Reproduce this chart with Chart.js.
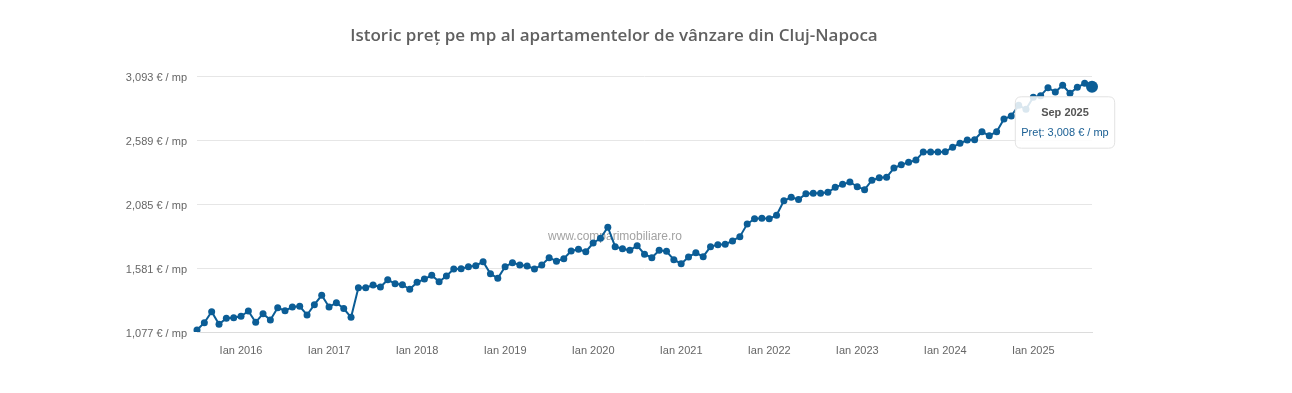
<!DOCTYPE html>
<html>
<head>
<meta charset="utf-8">
<script src="https://cdn.jsdelivr.net/npm/chart.js@4.4.0/dist/chart.umd.min.js"></script>
<style>
html, body { margin: 0; padding: 0; background: #fff; }
#wrap { width: 1292px; height: 393px; }
</style>
</head>
<body>
<div id="wrap"><canvas id="c" width="1292" height="393"></canvas></div>
<script>
// --- data ---
const monthNames = ['Ian', 'Feb', 'Mar', 'Apr', 'Mai', 'Iun', 'Iul', 'Aug', 'Sep', 'Oct', 'Noi', 'Dec'];
const startYear = 2015, startMonth = 6; // Iul 2015

const prices = [
    1093, 1150, 1237, 1138, 1185, 1190,
    1201, 1242, 1153, 1221, 1172, 1268, 1245, 1274, 1279, 1211, 1292, 1366,
    1274, 1308, 1262, 1193, 1426, 1426, 1447, 1431, 1489, 1457, 1450, 1413,
    1468, 1494, 1524, 1473, 1518, 1573, 1575, 1591, 1599, 1631, 1536, 1500,
    1591, 1623, 1605, 1597, 1573, 1605, 1662, 1634, 1654, 1715, 1728, 1709,
    1778, 1815, 1902, 1749, 1733, 1720, 1757, 1690, 1662, 1720, 1712, 1646,
    1615, 1668, 1701, 1670, 1749, 1765, 1768, 1794, 1828, 1927, 1969, 1972,
    1969, 1996, 2111, 2138, 2120, 2166, 2169, 2169, 2177, 2216, 2240, 2258,
    2221, 2198, 2272, 2292, 2295, 2368, 2394, 2413, 2431, 2495, 2495, 2495,
    2496, 2532, 2563, 2589, 2591, 2654, 2623, 2654, 2754, 2778, 2862, 2831,
    2925, 2938, 3001, 2967, 3020, 2957, 3004, 3035, 3008
];

const yTicks = [1077, 1581, 2085, 2589, 3093];

const months = prices.map((_, i) => {
    const m = (startMonth + i) % 12;
    const y = startYear + Math.floor((startMonth + i) / 12);
    return monthNames[m] + ' ' + y;
});

const fmt = v => Math.round(v).toLocaleString('en-US');
const BLUE = '#0b5d96';
const LABEL_FONT = '"Liberation Sans", Arial, sans-serif';

// --- plugins: title text + watermark ---
const decor = {
    id: 'decor',
    beforeDatasetsDraw(chart) {
        const { ctx, chartArea } = chart;
        ctx.save();
        ctx.font = '12px ' + LABEL_FONT;
        ctx.fillStyle = '#a3a3a3';
        ctx.textAlign = 'center';
        ctx.textBaseline = 'middle';
        ctx.fillText('www.comparimobiliare.ro', chartArea.left + 418, chartArea.top + 161);
        ctx.restore();
    },
    afterDraw(chart) {
        const { ctx } = chart;
        ctx.save();
        ctx.font = '600 17px "Open Sans", sans-serif';
        ctx.fillStyle = '#606060';
        ctx.textAlign = 'center';
        ctx.textBaseline = 'middle';
        ctx.fillText('Istoric preț pe mp al apartamentelor de vânzare din Cluj-Napoca', 614, 36);
        ctx.restore();
    }
};

Chart.Tooltip.positioners.below = function(items) {
    if (!items.length) return false;
    const el = items[0].element;
    return { x: el.x - 27, y: el.y + 10 };
};

const chart = new Chart(document.getElementById('c'), {
    type: 'line',
    data: {
        labels: months,
        datasets: [{
            label: 'Preț',
            data: prices,
            borderColor: BLUE,
            backgroundColor: BLUE,
            borderWidth: 2,
            pointRadius: 3.5,
            pointBorderWidth: 0,
            pointBackgroundColor: BLUE,
            pointHoverRadius: 6,
            pointHoverBorderWidth: 0,
            pointHoverBackgroundColor: BLUE,
            tension: 0
        }]
    },
    options: {
        responsive: false,
        animation: false,
        events: [],
        layout: { padding: { top: 76, right: 200, bottom: 0, left: 0 } },
        scales: {
            x: {
                offset: false,
                grid: { display: false, drawTicks: false },
                border: { display: true, color: '#dcdcdc' },
                ticks: {
                    autoSkip: false,
                    maxRotation: 0,
                    padding: 12,
                    color: '#666',
                    font: { family: LABEL_FONT, size: 11 },
                    callback(v, i) {
                        const l = months[i];
                        return l.startsWith('Ian') ? l : null;
                    }
                },
                afterFit(scale) { scale.height = 61; }
            },
            y: {
                min: yTicks[0],
                max: yTicks[yTicks.length - 1],
                grid: { color: '#e6e6e6', drawTicks: false },
                border: { display: false },
                ticks: {
                    stepSize: yTicks[1] - yTicks[0],
                    padding: 10,
                    labelOffset: 2,
                    color: '#666',
                    font: { family: LABEL_FONT, size: 11 },
                    callback: v => fmt(v) + ' € / mp'
                },
                afterFit(scale) { scale.width = 197; }
            }
        },
        plugins: {
            legend: { display: false },
            title: { display: false },
            tooltip: {
                position: 'below',
                xAlign: 'center',
                yAlign: 'top',
                caretSize: 0,
                caretPadding: 0,
                backgroundColor: 'rgba(255,255,255,0.85)',
                borderColor: '#e2e2e2',
                borderWidth: 1,
                cornerRadius: 6,
                padding: { top: 10, bottom: 9, left: 6, right: 6 },
                titleAlign: 'center',
                bodyAlign: 'center',
                titleColor: '#555',
                bodyColor: '#1a5f94',
                titleFont: { family: LABEL_FONT, size: 11, weight: 'bold' },
                bodyFont: { family: LABEL_FONT, size: 11 },
                titleMarginBottom: 6,
                displayColors: false,
                callbacks: {
                    label: ctx => 'Preț: ' + fmt(ctx.raw) + ' € / mp'
                }
            }
        }
    },
    plugins: [decor]
});

const last = prices.length - 1;
chart.setActiveElements([{ datasetIndex: 0, index: last }]);
chart.tooltip.setActiveElements([{ datasetIndex: 0, index: last }], { x: 0, y: 0 });
chart.update();
</script>
</body>
</html>
